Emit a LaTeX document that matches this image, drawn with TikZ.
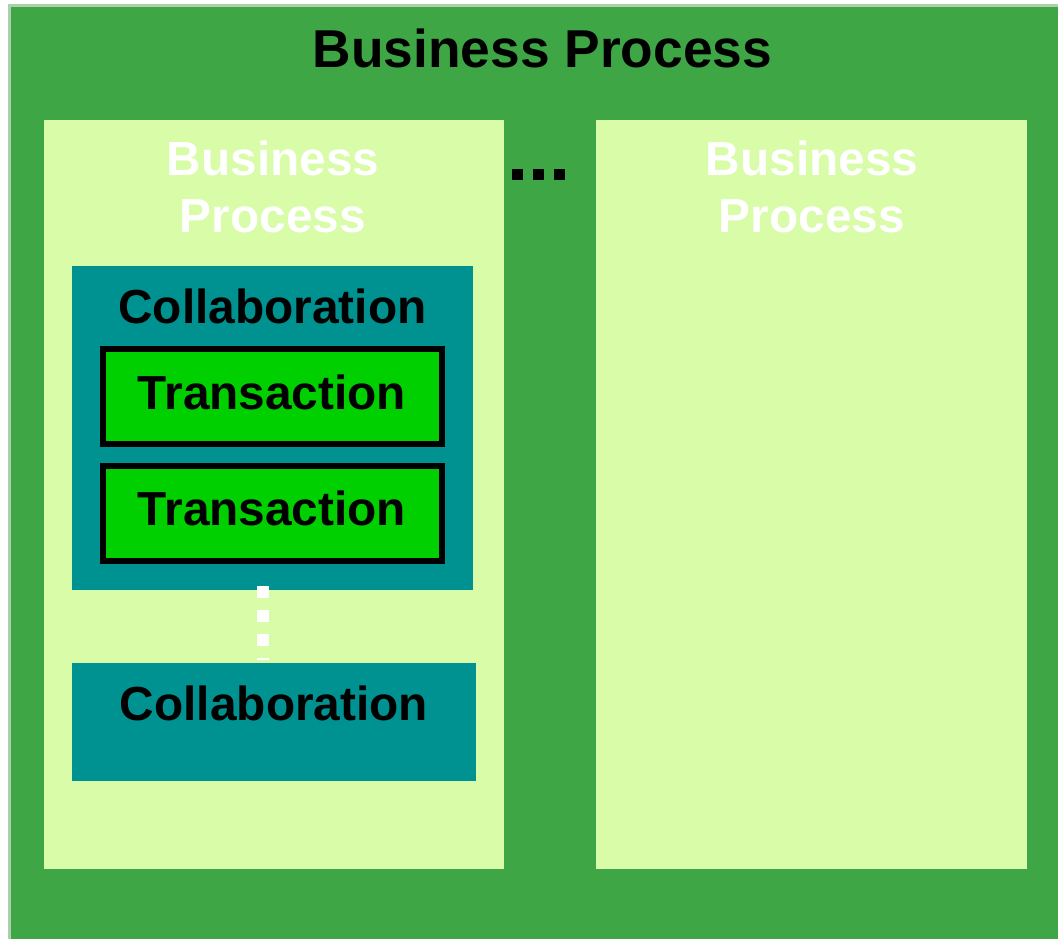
\documentclass[tikz,border=0pt]{standalone}
\usepackage{fontspec}
\setmainfont{Liberation Sans}
\definecolor{outergreen}{RGB}{62,166,69}
\definecolor{paleline}{RGB}{172,208,172}
\definecolor{palegreen}{RGB}{216,252,168}
\definecolor{collteal}{RGB}{0,145,145}
\definecolor{transgreen}{RGB}{0,208,0}
\begin{document}
\begin{tikzpicture}[x=1pt,y=-1pt,
  area/.style={rectangle, inner sep=0pt, outer sep=0pt, anchor=north west},
  lbl/.style={inner sep=0pt, outer sep=0pt, anchor=base, align=center,
    font=\bfseries\fontsize{47.8}{58}\selectfont},
  tbox/.style={area, fill=transgreen, draw=black, line width=6pt,
    minimum width=339, minimum height=95},
]
\useasboundingbox (0,0) rectangle (1058,939);
\fill[white] (0,0) rectangle (1058,939);
% outer process
\node[area, fill=outergreen, draw=paleline, line width=3pt,
  minimum width=1060, minimum height=940] (outer) at (9.5,6) {};
\node[lbl] (title) at (542.5,68) {\fontsize{53.3}{60}\selectfont Business Process};
% inner processes
\node[area, fill=palegreen, minimum width=460, minimum height=749] (bpl) at (44,120) {};
\node[area, fill=palegreen, minimum width=431, minimum height=749] (bpr) at (596,120) {};
\node[lbl, text=white] (bpltext) at (273,233) {Business\\Process};
\node[lbl, text=white] (bprtext) at (812,233) {Business\\Process};
% ellipsis between processes
\coordinate (hdotstart) at (512,174.5);
\coordinate (hdotend) at (565,174.5);
\draw[black, line width=11pt, dash pattern=on 11pt off 10pt] (hdotstart) -- (hdotend);
% collaborations
\node[area, fill=collteal, minimum width=401, minimum height=324] (colla) at (72,266) {};
\node[lbl] (collatext) at (272.5,323) {Collaboration};
\node[tbox] (transa) at (103,349) {};
\node[lbl] (transatext) at (272,409) {Transaction};
\node[tbox] (transb) at (103,466) {};
\node[lbl] (transbtext) at (272,525) {Transaction};
\coordinate (vdotstart) at (263,586);
\coordinate (vdotend) at (263,660);
\draw[white, line width=12pt, dash pattern=on 12pt off 12pt] (vdotstart) -- (vdotend);
\node[area, fill=collteal, minimum width=404, minimum height=118] (collb) at (72,663) {};
\node[lbl] (collbtext) at (274,720) {Collaboration};
\end{tikzpicture}
\end{document}
